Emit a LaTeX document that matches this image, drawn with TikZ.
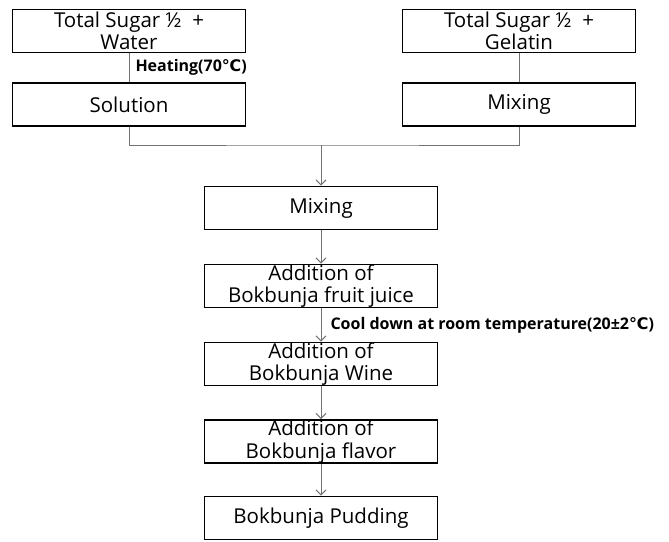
\documentclass[tikz,border=0pt]{standalone}
\usepackage{fontspec}
\setmainfont{Open Sans}
\newfontfamily\symboles{DejaVu Sans}
\usepackage{xcolor}
\usepackage{tikz}
\usetikzlibrary{arrows.meta}

\begin{document}
\begin{tikzpicture}[x=1pt,y=-1pt]
% Styles
\tikzstyle{boite}=[draw=black,line width=1.8pt,minimum width=233pt,minimum height=43pt,align=center,inner sep=0pt,font=\fontsize{20.5}{22.5}\selectfont]
\tikzstyle{trait}=[draw=black!55,line width=1pt]
\tikzstyle{fleche}=[trait,-{Straight Barb[length=5pt,width=10pt]}]
\tikzstyle{etiquette}=[font=\fontsize{16}{18}\selectfont\bfseries,anchor=west,inner sep=0pt]
% Dimensions
\def\ColGauche{129}
\def\ColDroite{519}
\def\ColCentre{321}
% Cadre
\useasboundingbox (0,0) rectangle (669,541);
% Noeuds
\node[boite] (SucreEau) at (\ColGauche,31) {Total Sugar ½ \ +\\Water};
\node[boite] (Solution) at (\ColGauche,104.5) {Solution};
\node[boite] (SucreGel) at (\ColDroite,31) {Total Sugar ½ \ +\\Gelatin};
\node[boite] (MelangeG) at (\ColDroite,104.5) {Mixing};
\coordinate (Jonction) at (\ColCentre,145);
\node[boite] (Melange) at (\ColCentre,208) {Mixing};
\node[boite] (Jus) at (\ColCentre,286) {Addition of\\Bokbunja fruit juice};
\node[boite] (Vin) at (\ColCentre,364) {Addition of\\Bokbunja Wine};
\node[boite] (Arome) at (\ColCentre,441.5) {Addition of\\Bokbunja flavor};
\node[boite] (Pudding) at (\ColCentre,518) {Bokbunja Pudding};
% Arcs
\draw[trait] (SucreEau)--(Solution) node[etiquette,pos=0.5,xshift=6pt] {Heating(70{\symboles\bfseries ℃})};
\draw[trait] (SucreGel)--(MelangeG);
\draw[trait] (Solution.south) |- (Jonction) -| (MelangeG.south);
\draw[fleche] (Jonction)--(Melange);
\draw[fleche] (Melange)--(Jus);
\draw[fleche] (Jus)--(Vin) node[etiquette,pos=0.5,xshift=9pt] {Cool down at room temperature(20±2{\symboles\bfseries ℃})};
\draw[fleche] (Vin)--(Arome);
\draw[fleche] (Arome)--(Pudding);
\end{tikzpicture}
\end{document}
